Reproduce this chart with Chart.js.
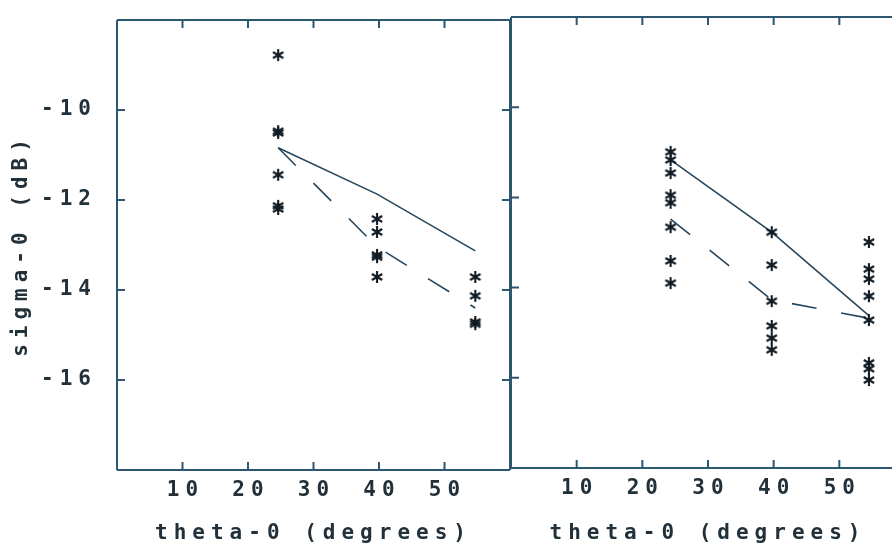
<!DOCTYPE html>
<html>
<head>
<meta charset="utf-8">
<script src="https://cdn.jsdelivr.net/npm/chart.js@4.4.0/dist/chart.umd.min.js"></script>
<style>
  html, body { margin: 0; padding: 0; background: #fff; overflow: hidden; }
  #wrap { position: relative; width: 892px; height: 547px; overflow: hidden; background: #fff; }
  #leftChart { position: absolute; left: 0; top: 0; }
  #rightChart { position: absolute; left: 500px; top: 0; }
</style>
</head>
<body>
<div id="wrap">
  <canvas id="leftChart" width="520" height="547"></canvas>
  <canvas id="rightChart" width="420" height="547"></canvas>
</div>
<script>
// Tick labels shown on the axes
const xTickLabels = [10, 20, 30, 40, 50];
const yTickLabels = [-10, -12, -14, -16];

// Left panel: incidence angles, observed sigma-0 and the two model curves
const leftAngles = [24.6, 39.7, 54.7];
const leftObs25 = [-8.78, -10.47, -10.51, -11.44, -12.13, -12.2];
const leftObs40 = [-12.42, -12.71, -13.22, -13.27, -13.71];
const leftObs55 = [-13.71, -14.13, -14.71, -14.76];
const leftSolid = [-10.84, -11.87, -13.13];
const leftDashed = [-10.84, -13.04, -14.4];

// Right panel
const rightAngles = [24.3, 39.7, 54.5];
const rightObs25 = [-10.99, -11.17, -11.46, -11.95, -12.12, -12.66, -13.41, -13.9];
const rightObs40 = [-12.77, -13.5, -14.3, -14.85, -15.12, -15.38];
const rightObs55 = [-12.99, -13.59, -13.81, -14.19, -14.72, -15.67, -15.8, -16.05];
const rightSolid = [-11.17, -12.77, -14.62];
const rightDashed = [-12.48, -14.27, -14.68];

const AXIS_COLOR = '#2d5670';
const LINE_COLOR = '#27465c';
const STAR_COLOR = '#111b24';
const TEXT_COLOR = '#22303a';
const FONT = { family: "'DejaVu Sans Mono', monospace", size: 21, weight: 'bold' };

/**
 * Plotter-style asterisk used as the point marker
 */
function makeStar(size, color) {
    const c = document.createElement('canvas');
    c.width = size;
    c.height = size;
    const g = c.getContext('2d');
    const m = size / 2;
    const r = size / 2 - 1;
    const dx = r * 0.866;
    const dy = r * 0.5;
    g.strokeStyle = color;
    g.lineWidth = 2.1;
    g.beginPath();
    g.moveTo(m, m - r); g.lineTo(m, m + r);
    g.moveTo(m - dx, m - dy); g.lineTo(m + dx, m + dy);
    g.moveTo(m - dx, m + dy); g.lineTo(m + dx, m - dy);
    g.stroke();
    return c;
}

const starImg = makeStar(14, STAR_COLOR);

// Frame with inward tick marks, drawn on the scale bounds
const framePlugin = {
    id: 'frame',
    beforeDraw(chart) {
        chart.ctx.letterSpacing = '6px';
    },
    afterDraw(chart) {
        const { ctx, scales: { x, y } } = chart;
        const left = x.left, right = x.right, top = y.top, bottom = y.bottom;
        ctx.save();
        ctx.strokeStyle = AXIS_COLOR;
        ctx.lineWidth = 2;
        ctx.beginPath();
        ctx.moveTo(left, top); ctx.lineTo(right, top);
        ctx.moveTo(left, bottom); ctx.lineTo(right, bottom);
        ctx.moveTo(left, top); ctx.lineTo(left, bottom);
        ctx.moveTo(right, top); ctx.lineTo(right, bottom);
        xTickLabels.forEach(v => {
            const px = x.getPixelForValue(v);
            ctx.moveTo(px, bottom); ctx.lineTo(px, bottom - 8);
            ctx.moveTo(px, top); ctx.lineTo(px, top + 8);
        });
        yTickLabels.forEach(v => {
            const py = y.getPixelForValue(v);
            ctx.moveTo(left, py); ctx.lineTo(left + 8, py);
            ctx.moveTo(right, py); ctx.lineTo(right - 8, py);
        });
        ctx.stroke();
        ctx.restore();
    }
};

function toPoints(angles, values) {
    return angles.map((a, i) => ({ x: a, y: values[i] }));
}

function starPoints(angles, columns) {
    return columns.flatMap((col, i) => col.map(v => ({ x: angles[i], y: v })));
}

/**
 * Builds one panel of the figure
 */
function buildPanel(canvasId, angles, columns, solid, dashed, cfg) {
    const ctx = document.getElementById(canvasId).getContext('2d');
    return new Chart(ctx, {
        type: 'scatter',
        data: {
            datasets: [
                {
                    data: starPoints(angles, columns),
                    pointStyle: starImg,
                    pointRadius: 6,
                    showLine: false,
                    clip: false
                },
                {
                    data: toPoints(angles, solid),
                    showLine: true,
                    borderColor: LINE_COLOR,
                    borderWidth: 1.6,
                    pointRadius: 0,
                    clip: false
                },
                {
                    data: toPoints(angles, dashed),
                    showLine: true,
                    borderColor: LINE_COLOR,
                    borderWidth: 1.6,
                    borderDash: [25, 25],
                    pointRadius: 0,
                    clip: false
                }
            ]
        },
        options: {
            responsive: false,
            animation: false,
            layout: { padding: cfg.padding },
            plugins: {
                legend: { display: false },
                tooltip: { enabled: false }
            },
            scales: {
                x: {
                    type: 'linear',
                    min: 0,
                    max: 60,
                    grid: { display: false },
                    border: { display: false },
                    ticks: {
                        stepSize: 10,
                        autoSkip: false,
                        maxRotation: 0,
                        padding: 0,
                        labelOffset: 3,
                        color: TEXT_COLOR,
                        font: FONT,
                        callback: v => xTickLabels.includes(v) ? String(v) : ''
                    },
                    title: {
                        display: true,
                        text: 'theta-0 (degrees)',
                        color: TEXT_COLOR,
                        font: FONT,
                        padding: { top: 0, bottom: 1 }
                    },
                    afterFit: scale => {
                        scale.height = cfg.xHeight;
                        scale.paddingLeft = 0;
                        scale.paddingRight = 0;
                    }
                },
                y: {
                    type: 'linear',
                    min: -18,
                    max: -8,
                    grid: { display: false },
                    border: { display: false },
                    ticks: {
                        display: cfg.showY,
                        stepSize: 2,
                        autoSkip: false,
                        padding: 12,
                        color: TEXT_COLOR,
                        font: FONT,
                        callback: v => yTickLabels.includes(v) ? String(v) : ''
                    },
                    title: {
                        display: cfg.showY,
                        text: 'sigma-0 (dB)',
                        color: TEXT_COLOR,
                        font: FONT,
                        padding: { top: 9, bottom: 0 }
                    },
                    afterFit: scale => {
                        scale.width = cfg.yWidth;
                        scale.paddingTop = 0;
                        scale.paddingBottom = 0;
                    }
                }
            }
        },
        plugins: [framePlugin]
    });
}

document.addEventListener('DOMContentLoaded', function() {
    buildPanel('leftChart', leftAngles, [leftObs25, leftObs40, leftObs55], leftSolid, leftDashed, {
        padding: { left: 0, right: 10, top: 20, bottom: 0 },
        xHeight: 77,
        yWidth: 117,
        showY: true
    });
    buildPanel('rightChart', rightAngles, [rightObs25, rightObs40, rightObs55], rightSolid, rightDashed, {
        padding: { left: 11, right: 15, top: 17, bottom: 0 },
        xHeight: 79,
        yWidth: 0,
        showY: false
    });
});
</script>
</body>
</html>
